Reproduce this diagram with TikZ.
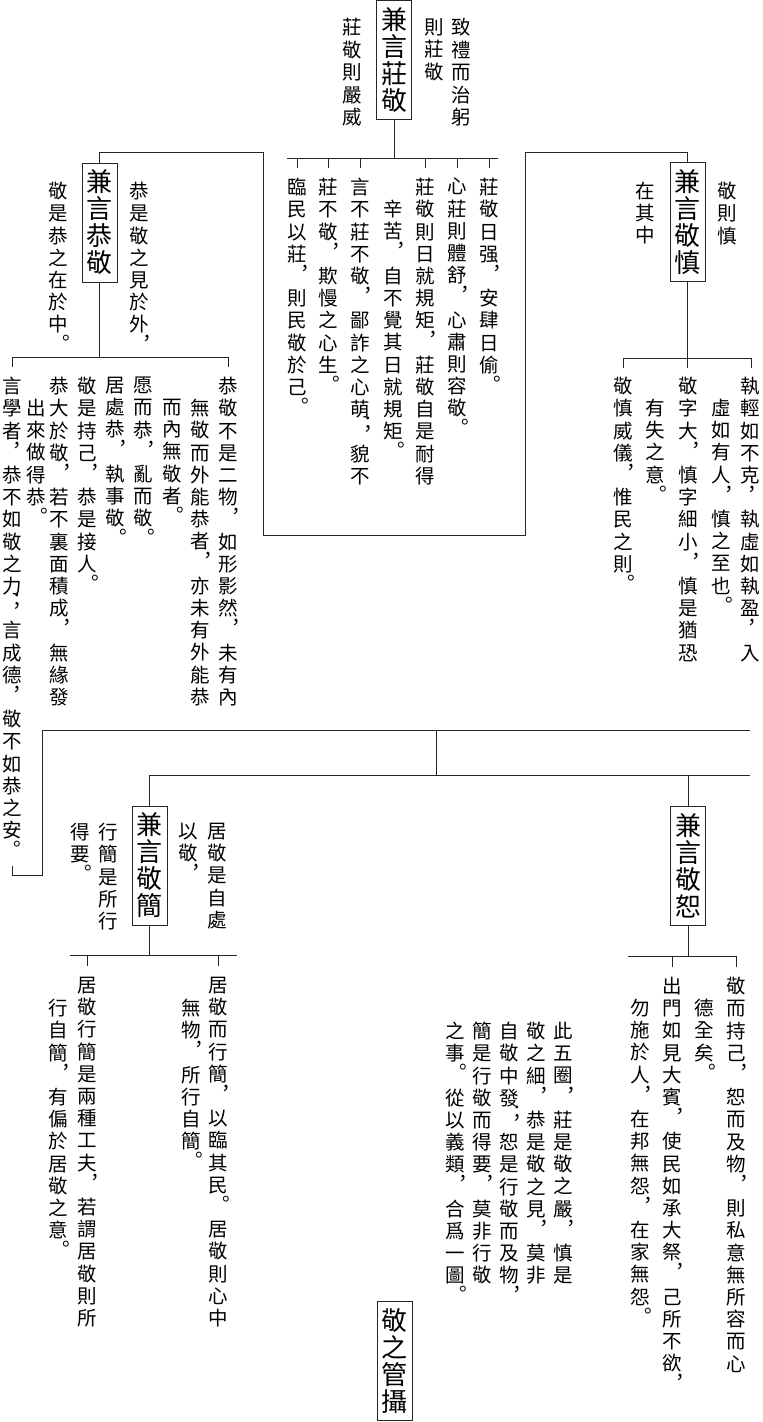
\documentclass[tikz,border=0pt]{standalone}
\usepackage{fontspec}
\setmainfont{Noto Sans CJK TC}
\makeatletter
\newlength\vpitch \setlength\vpitch{22.2pt}
\newlength\vcw \setlength\vcw{20pt}
\newlength\vpx \newlength\vpy
\def\vtpx{0.42em}
\def\vt@loop#1{\ifx\relax#1\else\vt@char{#1}\expandafter\vt@loop\fi}
\def\vt@char#1{\let\vt@next\vt@norm
  \ifx#1，\let\vt@next\vt@punct\fi
  \ifx#1。\let\vt@next\vt@punct\fi
  \ifx#1；\let\vt@next\vt@punct\fi
  \vt@next{#1}}
\def\vt@norm#1{\hbox to\vcw{\hss#1\hss}}
\def\vt@punct#1{\hbox to\vcw{\hss\raise\vpy\hbox{\kern\vpx#1\kern-\vpx}\hss}}
\newcommand\vtext[2][22.2pt]{\vbox{\setlength\vpitch{#1}\baselineskip\vpitch\lineskiplimit-\maxdimen\lineskip0pt\parskip0pt\setlength\vpx{\vtpx}\setlength\vpy{0.42em}\vt@loop#2\relax}}
\newcommand\vbig[1]{\setlength\vcw{26pt}\vtext[27pt]{#1}}
\makeatother
\tikzset{
  col/.style={anchor=north, inner sep=0pt, font=\fontsize{19.5}{22.2}\selectfont},
  lbl/.style={draw=black!85, line width=1pt, inner sep=0pt, minimum width=35pt, minimum height=119pt, fill=white, font=\fontsize{26}{27}\selectfont},
  ln/.style={line width=1pt, draw=black!85},
}
\begin{document}
\begin{tikzpicture}[x=1pt,y=-1pt]
\useasboundingbox (0,0) rectangle (763,1422);
\fill[white] (0,0) rectangle (763,1422);

% ---------- top: 兼言莊敬 ----------
\node[lbl] (zj) at (394,60) {\vbig{兼言莊敬}};
\node[col] (zjR1) at (461,18) {\vtext[22.5pt]{致禮而治躬}};
\node[col] (zjR2) at (434,18) {\vtext[22.5pt]{則莊敬}};
\node[col] (zjL) at (352,18) {\vtext[22.5pt]{莊敬則嚴威}};

\node[col] (m1) at (489,178) {\vtext{莊敬日强，安肆日偷。}};
\node[col] (m2) at (457,178) {\vtext{心莊則體舒，心肅則容敬。}};
\node[col] (m3) at (425,178) {\vtext{莊敬則日就規矩，莊敬自是耐得}};
\node[col] (m4) at (393,200) {\vtext{辛苦，自不覺其日就規矩。}};
\node[col] (m5) at (360,178) {\vtext{言不莊不敬，鄙詐之心萌；貌不}};
\node[col] (m6) at (328,178) {\vtext{莊不敬，欺慢之心生。}};
\node[col] (m7) at (297,178) {\vtext{臨民以莊，則民敬於己。}};

\coordinate (b0L) at (287,158);
\coordinate (b0R) at (498,158);
\draw[ln] (zj.south) -- (zj.south |- b0L);
\draw[ln] (b0L) -- (b0R);
\foreach \n in {m1,m2,m3,m5,m6,m7} \draw[ln] (\n.north |- b0L) -- ++(0,10);

% ---------- 兼言恭敬 ----------
\node[lbl] (gj) at (99.5,222.5) {\vbig{兼言恭敬}};
\node[col] (gjR) at (139,182) {\vtext{恭是敬之見於外，}};
\node[col] (gjL) at (58,182) {\vtext{敬是恭之在於中。}};

\node[col] (g1) at (228,377) {\vtext{恭敬不是二物，如形影然，未有內}};
\node[col] (g2) at (200,399) {\vtext{無敬而外能恭者，亦未有外能恭}};
\node[col] (g3) at (172,399) {\vtext{而內無敬者。}};
\node[col] (g4) at (143,377) {\vtext{愿而恭，亂而敬。}};
\node[col] (g5) at (115,377) {\vtext{居處恭，執事敬。}};
\node[col] (g6) at (87,377) {\vtext{敬是持己，恭是接人。}};
\node[col] (g7) at (59,377) {\vtext{恭大於敬，若不裏面積成，無緣發}};
\node[col] (g8) at (36,399) {\vtext{出來做得恭。}};
\node[col] (g9) at (12,377) {\def\vtpx{0.25em}\vtext{言學者，恭不如敬之力；言成德，敬不如恭之安。}};

\coordinate (gbL) at (12,357);
\coordinate (gbR) at (228,357);
\draw[ln] (gj.south) -- (gj.south |- gbL);
\draw[ln] ([yshift=-10pt]gbL) -- (gbL) -- (gbR) -- ([yshift=-10pt]gbR);

% ---------- 兼言敬慎 ----------
\node[lbl] (js) at (687.5,222) {\vbig{兼言敬慎}};
\node[col] (jsR) at (727,182) {\vtext{敬則慎}};
\node[col] (jsL) at (645,182) {\vtext{在其中}};

\node[col] (s1) at (750,377) {\def\vtpx{0.12em}\vtext{執輕如不克，執虛如執盈，入}};
\node[col] (s2) at (721,399) {\vtext{虛如有人，慎之至也。}};
\node[col] (s3) at (688,377) {\vtext{敬字大，慎字細小，慎是猶恐}};
\node[col] (s4) at (655,399) {\vtext{有失之意。}};
\node[col] (s5) at (623,377) {\vtext{敬慎威儀，惟民之則。}};

\coordinate (sbL) at (623,358);
\coordinate (sbR) at (751,358);
\draw[ln] (js.south) -- ([yshift=-10pt]js.south |- sbL);
\draw[ln] ([yshift=-10pt]sbL) -- (sbL) -- (sbR) -- ([yshift=-10pt]sbR);

% ---------- frame linking 恭敬 and 敬慎 ----------
\coordinate (fA) at (263,152);
\coordinate (fB) at (263,535);
\coordinate (fC) at (525,535);
\coordinate (fD) at (525,152);
\draw[ln] (gj.north) |- (fA) -- (fB) -- (fC) -- (fD) -| (js.north);

% ---------- lower connectors ----------
\coordinate (kA) at (12,866);
\coordinate (kB) at (12,875);
\coordinate (kC) at (42,875);
\coordinate (hL) at (42,730);
\coordinate (hR) at (750,730);
\coordinate (hM) at (436,730);
\coordinate (h2M) at (436,775);
\coordinate (h2R) at (750,775);
\draw[ln] (kA) -- (kB) -- (kC) -- (hL) -- (hR);
\draw[ln] (hM) -- (h2M);

% ---------- 兼言敬簡 ----------
\node[lbl] (jj) at (149.5,865.5) {\vbig{兼言敬簡}};
\node[col] (jjR1) at (217,823) {\vtext{居敬是自處}};
\node[col] (jjR2) at (188,823) {\vtext{以敬，}};
\node[col] (jjL1) at (108,823) {\vtext{行簡是所行}};
\node[col] (jjL2) at (80,823) {\vtext{得要。}};

\node[col] (c1) at (218,977) {\vtext{居敬而行簡，以臨其民。居敬則心中}};
\node[col] (c2) at (191,999) {\vtext{無物，所行自簡。}};
\node[col] (c3) at (87,977) {\vtext{居敬行簡是兩種工夫，若謂居敬則所}};
\node[col] (c4) at (58,999) {\vtext{行自簡，有偏於居敬之意。}};

\coordinate (cbL) at (70,955);
\coordinate (cbR) at (237,955);
\draw[ln] (jj.south) -- (jj.south |- cbL);
\draw[ln] (cbL) -- (cbR);
\foreach \n in {c1,c3} \draw[ln] (\n.north |- cbL) -- ++(0,11);

% ---------- 兼言敬恕 ----------
\node[lbl] (jr) at (688,865.5) {\vbig{兼言敬恕}};
\node[col] (r1) at (736,977) {\vtext{敬而持己，恕而及物，則私意無所容而心}};
\node[col] (r2) at (704,999) {\vtext{德全矣。}};
\node[col] (r3) at (672,977) {\vtext{出門如見大賓，使民如承大祭，己所不欲，}};
\node[col] (r4) at (640,999) {\vtext{勿施於人，在邦無怨，在家無怨。}};

\coordinate (rbL) at (628,956);
\coordinate (rbR) at (736,956);
\draw[ln] (jr.south) -- (jr.south |- rbL);
\draw[ln] (rbL) -- (rbR) -- ([yshift=-11pt]rbR);
\draw[ln] (r3.north |- rbL) -- ++(0,11);

\draw[ln] (jj.north) |- (h2R);
\draw[ln] (jr.north) -- (jr.north |- h2R);

% ---------- middle paragraph ----------
\node[col] (p1) at (563,1022) {\vtext{此五圈，莊是敬之嚴，慎是}};
\node[col] (p2) at (536,1022) {\vtext{敬之細，恭是敬之見，莫非}};
\node[col] (p3) at (509,1022) {\vtext{自敬中發；恕是行敬而及物，}};
\node[col] (p4) at (482,1022) {\vtext{簡是行敬而得要，莫非行敬}};
\node[col] (p5) at (455,1022) {\vtext{之事。從以義類，合爲一圖。}};

% ---------- bottom ----------
\node[lbl] (gs) at (394.5,1361) {\vbig{敬之管攝}};
\end{tikzpicture}
\end{document}
